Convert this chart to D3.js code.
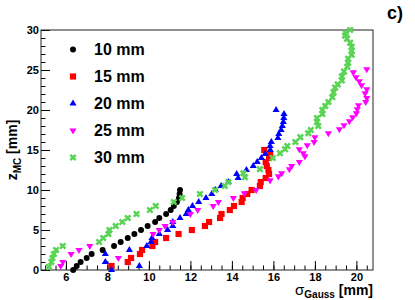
<!DOCTYPE html>
<html>
<head>
<meta charset="utf-8">
<script src="https://cdn.jsdelivr.net/npm/d3@7"></script>
<style>
  body { margin: 0; background: #fff; }
  text { font-family: "Liberation Sans", Arial, sans-serif; font-weight: bold; }
</style>
</head>
<body>
<div id="chart"></div>
<script>
// sigma_Gauss [mm] vs z_MC [mm], one list per source size
var sigma10 = [6.35, 6.52, 6.71, 7.0, 7.24, 7.77, 8.32, 8.64, 8.98, 9.3, 9.62, 9.94, 10.3, 10.5, 10.83, 11.05, 11.2, 11.35, 11.45, 11.48, 11.5];
var z10 = [0, 0.5, 1, 1.5, 2, 2.5, 3, 3.5, 4, 4.5, 5, 5.5, 6, 6.5, 7, 7.5, 8, 8.5, 9, 9.5, 10];

var sigma15 = [8.2, 8.98, 9.14, 9.57, 9.67, 10.17, 10.3, 10.83, 11.43, 12.07, 12.7, 12.9, 13.43, 13.5, 13.9, 14.1,
  14.47, 14.52, 14.74, 14.95, 15.35, 15.39, 15.63, 15.79, 15.76, 15.68, 15.63, 15.79, 15.84, 15.56];
var z15 = [0.5, 1, 1.5, 2, 2.5, 3, 3.5, 4, 4.5, 5, 5.5, 6, 6.5, 7, 7.5, 8,
  8.5, 9, 9.5, 10, 10.5, 11, 11.5, 12, 12.5, 13, 13.5, 14, 14.5, 15];

var sigma20 = [8.2, 9.54, 7.9, 7.9, 9.06, 9.9, 10.1, 10.15, 10.5, 10.9, 11.15, 11.15, 11.5, 11.8, 11.9, 12.1, 12.4, 12.75,
  13.03, 13.2, 13.48, 13.83, 14.3, 14.23, 14.7, 15.03, 15.22, 15.42, 15.6, 15.85, 15.84, 15.9, 16.22, 16.26, 16.37,
  16.43, 16.48, 16.5, 16.51, 16.13];
var z20 = [0, 0.5, 1, 2, 2.5, 3, 3.5, 4, 4.5, 5, 5.5, 6, 6.5, 7, 7.5, 8, 8.5, 9,
  9.5, 10, 10.5, 11, 11.5, 12, 12.5, 13, 13.5, 14, 14.5, 15, 15.5, 16, 16.5, 17, 17.5,
  18, 18.5, 19, 19.5, 20];

var sigma25 = [5.75, 5.85, 8.53, 6.25, 6.63, 7.15, 10.2, 10.5, 10.78, 11.15, 12.0, 12.35, 13.1, 13.35, 14.07, 14.6,
  15.17, 15.84, 16.24, 16.4, 16.77, 16.88, 17.25, 17.52, 17.44, 17.25, 17.63, 17.96, 18.0, 18.65, 19.18, 19.4,
  19.66, 19.82, 20.0, 20.04, 20.1, 20.45, 20.5, 20.42, 20.5, 20.25, 20.14, 19.98, 19.85, 20.5];
var z25 = [0.5, 1, 1.5, 2, 2.5, 3, 4.5, 5, 5.5, 6, 7, 7.5, 8, 8.5, 9, 9.6,
  10, 11.2, 11.7, 12.1, 12.6, 13, 13.5, 14.2, 14.6, 15.1, 15.6, 16, 16.6, 17.1, 17.6, 18.1,
  18.6, 19.1, 19.6, 20.1, 20.6, 21, 21.5, 22.1, 22.6, 23.1, 23.6, 24.1, 24.7, 25.1];

var sigma30 = [5.18, 5.3, 5.35, 5.42, 5.53, 5.85, 7.6, 7.8, 8.05, 8.1, 8.4, 8.72, 8.98, 9.4, 10.05, 10.33, 11.2, 11.6,
  12.46, 13.19, 13.66, 13.83, 14.63, 14.55, 15.35, 15.97, 16.32, 16.56, 16.67, 17.06, 17.3, 17.68, 17.8, 18.16,
  18.1, 18.1, 18.36, 18.36, 18.5, 18.65, 18.84, 18.9, 18.97, 19.1, 19.3, 19.3, 19.4, 19.56, 19.6, 19.6, 19.77,
  19.77, 19.77, 19.7, 19.55, 19.45, 19.5, 19.7];
var z30 = [0.4, 1, 1.5, 2, 2.5, 3, 3.5, 4, 4.5, 5, 5.5, 6, 6.5, 7, 7.5, 8, 8.5, 9,
  9.5, 10, 10.5, 11, 11.6, 12.1, 12.6, 14, 14.6, 15.1, 15.5, 16, 16.6, 17.1, 17.5, 18,
  18.5, 19, 19.5, 20, 20.5, 21, 21.6, 22.2, 22.8, 23.2, 23.7, 24.2, 24.8, 25.4, 25.9, 26.4, 26.9,
  27.4, 27.9, 28.4, 28.9, 29.3, 29.6, 30];

var legendLabels = ["10 mm", "15 mm", "20 mm", "25 mm", "30 mm"];
var colors = ["#000000", "#ff0000", "#0000ff", "#ff00ff", "#59d454"];

var xMajor = [6, 8, 10, 12, 14, 16, 18, 20];
var yMajor = [0, 5, 10, 15, 20, 25, 30];

var svgWidth = 415, svgHeight = 300;
var margin = {top: 30, right: 42, bottom: 30, left: 41};
var width = svgWidth - margin.left - margin.right;
var height = svgHeight - margin.top - margin.bottom;

var svg = d3.select("#chart").append("svg")
  .attr("width", svgWidth)
  .attr("height", svgHeight);

var chartGroup = svg.append("g")
  .attr("transform", `translate(${margin.left}, ${margin.top})`);

var xScale = d3.scaleLinear().domain([4.8, 20.8]).range([0, width]);
var yScale = d3.scaleLinear().domain([0, 30]).range([height, 0]);

// minor ticks first, majors on top
var xMinor = d3.range(5, 20.8, 0.5);
var yMinor = d3.range(0, 30.1, 1);

chartGroup.append("g")
  .attr("transform", `translate(0, ${height})`)
  .call(d3.axisBottom(xScale).tickValues(xMinor).tickSize(-4.5).tickFormat(""))
  .call(g => g.select(".domain").remove());

chartGroup.append("g")
  .call(d3.axisLeft(yScale).tickValues(yMinor).tickSize(-4.5).tickFormat(""))
  .call(g => g.select(".domain").remove());

var xAxis = chartGroup.append("g")
  .attr("transform", `translate(0, ${height})`)
  .call(d3.axisBottom(xScale).tickValues(xMajor).tickSize(-9).tickPadding(3));
xAxis.select(".domain").remove();
xAxis.selectAll("text").style("font-size", "11px").attr("fill", "#000");

var yAxis = chartGroup.append("g")
  .call(d3.axisLeft(yScale).tickValues(yMajor).tickSize(-9).tickPadding(2));
yAxis.select(".domain").remove();
yAxis.selectAll("text").style("font-size", "11px").attr("fill", "#000");

chartGroup.selectAll(".tick line").attr("stroke", "#000");

// frame
chartGroup.append("rect")
  .attr("width", width)
  .attr("height", height)
  .attr("fill", "none")
  .attr("stroke", "#222")
  .attr("stroke-width", 1);

// markers
var symbols = [
  {type: d3.symbolCircle, size: 28, rot: 0},
  {type: d3.symbolSquare, size: 38, rot: 0},
  {type: d3.symbolTriangle, size: 22, rot: 0},
  {type: d3.symbolTriangle, size: 22, rot: 180},
  {type: d3.symbolCross, size: 32, rot: 45}
];

var series = [
  {sigma: sigma10, z: z10},
  {sigma: sigma15, z: z15},
  {sigma: sigma20, z: z20},
  {sigma: sigma25, z: z25},
  {sigma: sigma30, z: z30}
];

series.forEach(function(s, i) {
  var pts = s.sigma.map((v, j) => ({x: v, y: s.z[j]}));
  var sym = d3.symbol().type(symbols[i].type).size(symbols[i].size);
  chartGroup.append("g").selectAll("path")
    .data(pts)
    .enter()
    .append("path")
    .attr("d", sym)
    .attr("transform", d => `translate(${xScale(d.x)}, ${yScale(d.y)}) rotate(${symbols[i].rot})`)
    .attr("fill", colors[i]);
});

// legend
var legend = chartGroup.append("g");
legendLabels.forEach(function(label, i) {
  var ly = 19.5 + i * 27;
  var sym = d3.symbol().type(symbols[i].type).size(symbols[i].size);
  legend.append("path")
    .attr("d", sym)
    .attr("transform", `translate(32, ${ly}) rotate(${symbols[i].rot})`)
    .attr("fill", colors[i]);
  legend.append("text")
    .attr("x", 53)
    .attr("y", ly)
    .attr("dy", "0.36em")
    .style("font-size", "16px")
    .text(label);
});

// axis titles
var xTitle = svg.append("text")
  .attr("x", margin.left + width)
  .attr("y", 294.5)
  .attr("text-anchor", "end")
  .style("font-size", "14px");
xTitle.append("tspan").style("font-weight", "normal").style("font-size", "15px").text("σ");
xTitle.append("tspan").attr("dy", 3.5).style("font-size", "10px").text("Gauss");
xTitle.append("tspan").attr("dy", -3.5).text(" [mm]");

var yTitle = svg.append("text")
  .attr("transform", `translate(17, ${margin.top + height / 2}) rotate(-90)`)
  .attr("text-anchor", "middle")
  .style("font-size", "14px");
yTitle.append("tspan").text("z");
yTitle.append("tspan").attr("dy", 4).style("font-size", "10px").text("MC");
yTitle.append("tspan").attr("dy", -4).text(" [mm]");

svg.append("text")
  .attr("x", 387)
  .attr("y", 19)
  .style("font-size", "18px")
  .text("c)");
</script>
</body>
</html>
